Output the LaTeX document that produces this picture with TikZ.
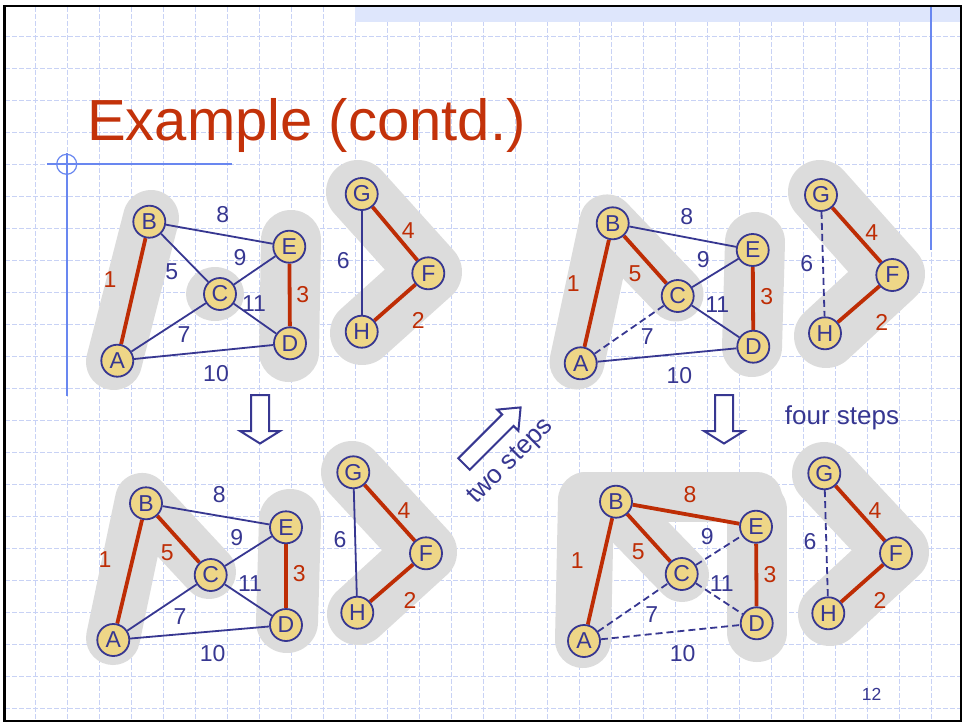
\documentclass[tikz,border=0pt]{standalone}
\usepackage{fontspec}
\setmainfont{Liberation Sans}
\newcommand\mylbl{\fontsize{23}{23}\selectfont}
\newcommand\myttl{\fontsize{58}{58}\selectfont}
\newcommand\mystp{\fontsize{26}{26}\selectfont}
\newcommand\mypgn{\fontsize{17.5}{17.5}\selectfont}
\definecolor{edgered}{RGB}{190,45,5}
\definecolor{titlered}{RGB}{195,50,10}
\definecolor{txtblue}{RGB}{55,55,145}
\definecolor{nodefill}{RGB}{238,214,135}
\definecolor{blobgray}{RGB}{220,220,220}
\definecolor{gridblue}{RGB}{200,210,245}
\definecolor{bandblue}{RGB}{222,230,252}
\definecolor{lineblue}{RGB}{105,135,240}
\pgfdeclarelayer{blobs}
\pgfdeclarelayer{edges}
\pgfsetlayers{blobs,edges,main}
\tikzset{
  vtx/.style={circle, draw=txtblue, line width=1.8pt, fill=nodefill, minimum size=32pt, inner sep=0pt, font=\mylbl, text=txtblue},
  redge/.style={draw=edgered, line width=3.8pt},
  bedge/.style={draw=txtblue, line width=1.8pt},
  dedge/.style={draw=txtblue, line width=1.8pt, dash pattern=on 7pt off 4pt},
  blob/.style={draw=blobgray, line cap=round, line join=round},
  rlab/.style={text=edgered, font=\mylbl, inner sep=0pt},
  blab/.style={text=txtblue, font=\mylbl, inner sep=0pt},
  gridline/.style={draw=gridblue, line width=1pt, dash pattern=on 5pt off 2pt},
  blockarrow/.style={draw=txtblue, line width=2pt, fill=white, line join=miter},
}
\begin{document}
\begin{tikzpicture}[x=1pt,y=-1pt]
\useasboundingbox (0,0) rectangle (965,723);
\begin{pgfonlayer}{blobs}
\fill[white] (0,0) rectangle (965,723);
\foreach \k in {1,...,29} \draw[gridline] ({3+32*\k},7) -- ({3+32*\k},720);
\foreach \k in {1,...,22} \draw[gridline] (5,{4.7+32*\k}) -- (960,{4.7+32*\k});
\fill[bandblue] (355,7) rectangle (960,21.5);
\draw[lineblue, line width=2pt] (930.7,7) -- (930.7,250);
\draw[lineblue, line width=2pt] (47,164.3) -- (232,164.3);
\draw[lineblue, line width=2pt] (66.7,153.3) -- (66.7,396);
\draw[lineblue, line width=1.2pt] (66.7,164.3) circle [radius=10pt];
\draw[black, line width=2.5pt] (4.5,6) rectangle (961,721);
% panel 1 blobs
\draw[blob, line width=56pt] (114,362) -- (151,218);
\fill[blobgray] (215,294) ellipse [x radius=29pt, y radius=27pt];
\draw[blob, line width=60pt] (291,240) -- (289,352);
\draw[blob, line width=64pt] (358,192) -- (430,272) -- (362,333);
% panel 2 blobs
\draw[blob, line width=55pt] (577,362) -- (607,222) -- (676,294);
\draw[blob, line width=60pt] (755,242) -- (752,347);
\draw[blob, line width=64pt] (820,192) -- (893,274) -- (826,336);
% panel 3 blobs
\draw[blob, line width=54pt] (113,638) -- (142,500) -- (209,572);
\draw[blob, line width=62pt] (290,520) -- (287,622);
\draw[blob, line width=62pt] (352,472) -- (426,552) -- (358,614);
% panel 4 blobs
\draw[blob, line width=56pt] (583,640) -- (586,500);
\draw[blob, line width=50pt] (586,497) -- (757,497);
\draw[blob, line width=60pt] (757,510) -- (757,632);
\draw[blob, line width=54pt] (614,505) -- (682,575);
\draw[blob, line width=64pt] (824,474) -- (897,552) -- (830,614);
\end{pgfonlayer}

\node[anchor=base west, text=titlered, font=\myttl, inner sep=0pt] (title) at (87,140) {Example (contd.)};

% panel 1 nodes
\node[vtx] (a1) at (117.3,360.7) {A};
\node[vtx] (b1) at (149.3,221.7) {B};
\node[vtx] (c1) at (220,294) {C};
\node[vtx] (d1) at (290,343.3) {D};
\node[vtx] (e1) at (289.3,246.7) {E};
\node[vtx] (g1) at (361.7,194) {G};
\node[vtx] (f1) at (428.3,273.3) {F};
\node[vtx] (h1) at (361.7,331.7) {H};
% panel 2 nodes
\node[vtx] (a2) at (580.7,363.3) {A};
\node[vtx] (b2) at (612.7,223.3) {B};
\node[vtx] (c2) at (677.7,296) {C};
\node[vtx] (d2) at (753.3,346.7) {D};
\node[vtx] (e2) at (752.7,250) {E};
\node[vtx] (g2) at (821,195) {G};
\node[vtx] (f2) at (892.3,275) {F};
\node[vtx] (h2) at (825,333.3) {H};
% panel 3 nodes
\node[vtx] (a3) at (113.3,640) {A};
\node[vtx] (b3) at (146,503.3) {B};
\node[vtx] (c3) at (210.7,575) {C};
\node[vtx] (d3) at (286,625) {D};
\node[vtx] (e3) at (286,527.3) {E};
\node[vtx] (g3) at (353.3,472.3) {G};
\node[vtx] (f3) at (426,553.3) {F};
\node[vtx] (h3) at (357.3,612.7) {H};
% panel 4 nodes
\node[vtx] (a4) at (584,641) {A};
\node[vtx] (b4) at (616,501.7) {B};
\node[vtx] (c4) at (681.7,574) {C};
\node[vtx] (d4) at (756.7,623.3) {D};
\node[vtx] (e4) at (756,526.7) {E};
\node[vtx] (g4) at (824.3,473.3) {G};
\node[vtx] (f4) at (896,553.3) {F};
\node[vtx] (h4) at (828.3,613.3) {H};

\begin{pgfonlayer}{edges}
% panel 1
\draw[redge] (a1) -- (b1);
\draw[bedge] (b1) -- (e1);
\draw[bedge] (b1) -- (c1);
\draw[bedge] (c1) -- (e1);
\draw[bedge] (c1) -- (d1);
\draw[bedge] (a1) -- (c1);
\draw[bedge] (a1) -- (d1);
\draw[redge] (e1) -- (d1);
\draw[bedge] (g1) -- (h1);
\draw[redge] (g1) -- (f1);
\draw[redge] (f1) -- (h1);
% panel 2
\draw[redge] (a2) -- (b2);
\draw[redge] (b2) -- (c2);
\draw[bedge] (b2) -- (e2);
\draw[bedge] (c2) -- (e2);
\draw[bedge] (c2) -- (d2);
\draw[dedge] (a2) -- (c2);
\draw[bedge] (a2) -- (d2);
\draw[redge] (e2) -- (d2);
\draw[dedge] (g2) -- (h2);
\draw[redge] (g2) -- (f2);
\draw[redge] (f2) -- (h2);
% panel 3
\draw[redge] (a3) -- (b3);
\draw[redge] (b3) -- (c3);
\draw[bedge] (b3) -- (e3);
\draw[bedge] (c3) -- (e3);
\draw[bedge] (c3) -- (d3);
\draw[bedge] (a3) -- (c3);
\draw[bedge] (a3) -- (d3);
\draw[redge] (e3) -- (d3);
\draw[bedge] (g3) -- (h3);
\draw[redge] (g3) -- (f3);
\draw[redge] (f3) -- (h3);
% panel 4
\draw[redge] (a4) -- (b4);
\draw[redge] (b4) -- (c4);
\draw[redge] (b4) -- (e4);
\draw[redge] (e4) -- (d4);
\draw[dedge] (c4) -- (e4);
\draw[dedge] (c4) -- (d4);
\draw[dedge] (a4) -- (c4);
\draw[dedge] (a4) -- (d4);
\draw[dedge] (g4) -- (h4);
\draw[redge] (g4) -- (f4);
\draw[redge] (f4) -- (h4);
\end{pgfonlayer}

% labels panel 1
\node[rlab] (l1a) at (110,280) {1};
\node[blab] (l1b) at (222.7,214.3) {8};
\node[blab] (l1c) at (171.7,271.7) {5};
\node[blab] (l1d) at (240,257.3) {9};
\node[blab] (l1e) at (254,303.3) {11};
\node[rlab] (l1f) at (302.7,295) {3};
\node[blab] (l1g) at (184,335) {7};
\node[blab] (l1h) at (216,374) {10};
\node[blab] (l1i) at (343.3,260.7) {6};
\node[rlab] (l1j) at (408.3,230.7) {4};
\node[rlab] (l1k) at (418.3,320) {2};
% labels panel 2
\node[rlab] (l2a) at (573.3,283.3) {1};
\node[blab] (l2b) at (686.7,216.7) {8};
\node[rlab] (l2c) at (635,274) {5};
\node[blab] (l2d) at (703.3,259.3) {9};
\node[blab] (l2e) at (717.3,305) {11};
\node[rlab] (l2f) at (766.7,296.7) {3};
\node[blab] (l2g) at (647.3,336.7) {7};
\node[blab] (l2h) at (679.3,376) {10};
\node[blab] (l2i) at (806.7,264) {6};
\node[rlab] (l2j) at (871.7,232.7) {4};
\node[rlab] (l2k) at (881.7,322.7) {2};
% labels panel 3
\node[rlab] (l3a) at (105,560) {1};
\node[blab] (l3b) at (219.3,495) {8};
\node[rlab] (l3c) at (167.3,552.7) {5};
\node[blab] (l3d) at (236.7,537.3) {9};
\node[blab] (l3e) at (250,583.3) {11};
\node[rlab] (l3f) at (299.3,573.3) {3};
\node[blab] (l3g) at (180,616.7) {7};
\node[blab] (l3h) at (212.7,653.3) {10};
\node[blab] (l3i) at (340,540) {6};
\node[rlab] (l3j) at (404,510.7) {4};
\node[rlab] (l3k) at (410,600.7) {2};
% labels panel 4
\node[rlab] (l4a) at (577.3,560.7) {1};
\node[rlab] (l4b) at (690,495) {8};
\node[rlab] (l4c) at (638.3,551.7) {5};
\node[blab] (l4d) at (707.3,536.7) {9};
\node[blab] (l4e) at (721.7,583.3) {11};
\node[rlab] (l4f) at (770,575) {3};
\node[blab] (l4g) at (651.7,615) {7};
\node[blab] (l4h) at (682.7,654) {10};
\node[blab] (l4i) at (810,541.7) {6};
\node[rlab] (l4j) at (875,510.7) {4};
\node[rlab] (l4k) at (880,600.7) {2};
\node[blab, font=\mypgn] (pagenum) at (871.7,694) {12};

% block arrows
\draw[blockarrow] (251,395) -- (269,395) -- (269,431) -- (280,431) -- (260,443.5) -- (240,431) -- (251,431) -- cycle;
\draw[blockarrow] (715,395) -- (733,395) -- (733,431) -- (744,431) -- (724,443.5) -- (704,431) -- (715,431) -- cycle;
\draw[blockarrow] (469.7,469.7) -- (458.3,458.3) -- (502.1,414.5) -- (497.2,409.6) -- (520.6,407.4) -- (518.4,430.8) -- (513.5,425.9) -- cycle;
\node[blab, font=\mystp, rotate=45] (twosteps) at (511,462) {two steps};
\node[blab, font=\mystp] (foursteps) at (842,418) {four steps};
\end{tikzpicture}
\end{document}
